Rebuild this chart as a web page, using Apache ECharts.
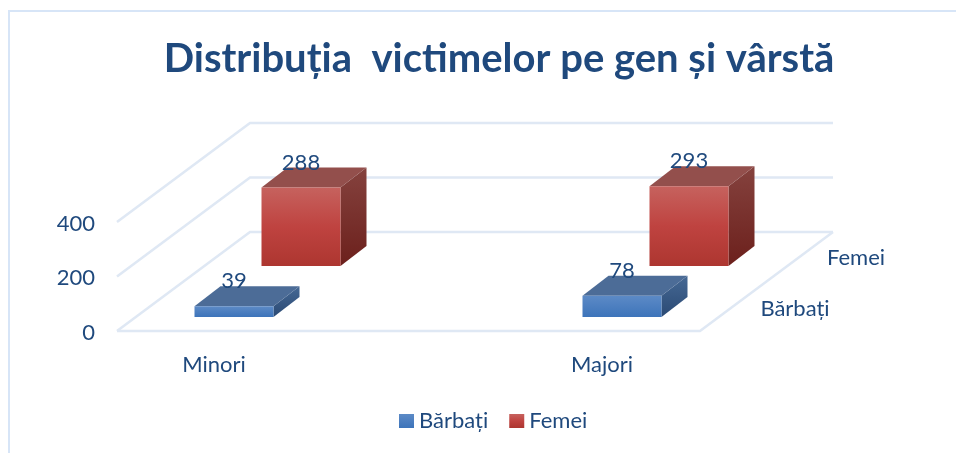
<!DOCTYPE html>
<html>
<head>
<meta charset="utf-8">
<title>Distribuția victimelor pe gen și vârstă</title>
<script src="https://cdn.jsdelivr.net/npm/echarts@6/dist/echarts.min.js"></script>
<style>
  html, body { margin: 0; padding: 0; background: #fff; }
  #chart { width: 956px; height: 453px; }
</style>
</head>
<body>
<div id="chart"></div>
<script>
const categories = ['Minori', 'Majori']
const barbati = [39, 78]
const femei = [288, 293]
const yTicks = [0, 200, 400]
const depthNames = ['Bărbați', 'Femei']

const textColor = '#1f497d'
const fontFamily = 'Lato, "Noto Sans", sans-serif'
const wallColor = '#dfe8f4'

// fake 3d: floor depth and how far each row sits from the front edge
const floor = { left: 117, right: 700, dx: 133, dy: -99 }
const bar = { width: 79, dx: 26, dy: -20 }
const rows = [
  { dx: 0, dy: -14, labelX: 795, labelY: 309 },
  { dx: 67, dy: -65, labelX: 856, labelY: 258 }
]

function vgrad(top, bottom) {
  return new echarts.graphic.LinearGradient(0, 0, 0, 1, [
    { offset: 0, color: top },
    { offset: 1, color: bottom }
  ])
}

const faces = [
  {
    front: vgrad('#5c8ac6', '#3d74ba'),
    top: '#4c6c97',
    side: vgrad('#456894', '#2b4a74')
  },
  {
    front: new echarts.graphic.LinearGradient(0, 0, 0, 1, [
      { offset: 0, color: '#c6625e' },
      { offset: 0.5, color: '#bf4340' },
      { offset: 1, color: '#ad3630' }
    ]),
    top: '#934f4c',
    side: vgrad('#85423e', '#6c201c')
  }
]

function poly(points, fill) {
  return { type: 'polygon', shape: { points }, style: { fill } }
}

function renderBar(rowIdx) {
  return function (params, api) {
    const row = rows[rowIdx]
    const face = faces[rowIdx]
    const base = api.coord([api.value(0), 0])
    const peak = api.coord([api.value(0), api.value(1)])
    const xl = base[0] + row.dx - bar.width / 2
    const xr = xl + bar.width
    const yb = base[1] + row.dy
    const yt = peak[1] + row.dy
    return {
      type: 'group',
      children: [
        poly([[xr, yb], [xr + bar.dx, yb + bar.dy], [xr + bar.dx, yt + bar.dy], [xr, yt]], face.side),
        poly([[xl, yt], [xr, yt], [xr + bar.dx, yt + bar.dy], [xl + bar.dx, yt + bar.dy]], face.top),
        poly([[xl, yb], [xr, yb], [xr, yt], [xl, yt]], face.front)
      ]
    }
  }
}

// value labels go in their own series so they sit above every bar face
function renderValueLabel(rowIdx) {
  return function (params, api) {
    const row = rows[rowIdx]
    const peak = api.coord([api.value(0), api.value(1)])
    return {
      type: 'text',
      style: {
        x: peak[0] + row.dx,
        y: peak[1] + row.dy - 25,
        text: String(api.value(1)),
        fill: textColor,
        font: '22px ' + fontFamily,
        textAlign: 'center',
        textVerticalAlign: 'middle'
      }
    }
  }
}

function renderWall(params, api) {
  const y = api.coord([0, api.value(0)])[1]
  const lineStyle = { stroke: wallColor, lineWidth: 2.5, fill: null }
  const backX = floor.left + floor.dx
  const children = [{
    type: 'polyline',
    shape: { points: [[floor.left, y], [backX, y + floor.dy], [floor.right + floor.dx, y + floor.dy]] },
    style: lineStyle
  }]
  if (api.value(0) === 0) {
    children.push({
      type: 'polyline',
      shape: { points: [[floor.left, y], [floor.right, y], [floor.right + floor.dx, y + floor.dy]] },
      style: lineStyle
    })
  }
  return { type: 'group', children }
}

function renderDepthLabel(params, api) {
  const row = rows[params.dataIndex]
  return {
    type: 'text',
    style: {
      x: row.labelX,
      y: row.labelY,
      text: depthNames[params.dataIndex],
      fill: textColor,
      font: '22px ' + fontFamily,
      textAlign: 'center',
      textVerticalAlign: 'middle'
    }
  }
}

const chart = echarts.init(document.getElementById('chart'))
chart.setOption({
  animation: false,
  backgroundColor: '#fff',
  graphic: [{
    type: 'polyline',
    silent: true,
    shape: { points: [[9, 453], [9, 11], [956, 11]] },
    style: { stroke: '#d7e5f7', lineWidth: 2, fill: null }
  }],
  title: {
    text: 'Distribuția  victimelor pe gen și vârstă',
    left: 494,
    top: 34,
    textAlign: 'center',
    textStyle: { color: textColor, fontFamily, fontWeight: 'bold', fontSize: 40 }
  },
  legend: {
    data: depthNames,
    left: 394,
    top: 405,
    icon: 'rect',
    itemWidth: 15,
    itemHeight: 14,
    itemGap: 21,
    selectedMode: false,
    textStyle: { color: textColor, fontFamily, fontSize: 22 }
  },
  grid: { left: 40, width: 776, top: 222, height: 109 },
  xAxis: {
    type: 'category',
    data: categories,
    axisLine: { show: false },
    axisTick: { show: false },
    axisLabel: {
      color: textColor,
      fontFamily,
      fontSize: 22,
      margin: 23,
      padding: [0, 40, 0, 0]
    }
  },
  yAxis: {
    type: 'value',
    min: 0,
    max: 400,
    interval: 200,
    offset: -60,
    axisLine: { show: false },
    axisTick: { show: false },
    splitLine: { show: false },
    axisLabel: {
      color: textColor,
      fontFamily,
      fontSize: 22,
      margin: 5,
      formatter: '{v|{value}}',
      rich: { v: { color: textColor, fontFamily, fontSize: 22, padding: [3, 0, 0, 0] } }
    }
  },
  series: [
    {
      name: 'wall',
      type: 'custom',
      z: 1,
      silent: true,
      clip: false,
      data: yTicks.map(t => [t]),
      encode: { y: 0 },
      renderItem: renderWall
    },
    {
      name: 'depth',
      type: 'custom',
      z: 1,
      silent: true,
      clip: false,
      data: depthNames.map((n, i) => [i, 0]),
      renderItem: renderDepthLabel
    },
    {
      name: depthNames[1],
      type: 'custom',
      z: 2,
      clip: false,
      itemStyle: { color: faces[1].front },
      data: femei.map((v, i) => [i, v]),
      encode: { x: 0, y: 1 },
      renderItem: renderBar(1)
    },
    {
      name: depthNames[0],
      type: 'custom',
      z: 3,
      clip: false,
      itemStyle: { color: faces[0].front },
      data: barbati.map((v, i) => [i, v]),
      encode: { x: 0, y: 1 },
      renderItem: renderBar(0)
    },
    {
      name: 'femei labels',
      type: 'custom',
      z: 5,
      silent: true,
      clip: false,
      data: femei.map((v, i) => [i, v]),
      encode: { x: 0, y: 1 },
      renderItem: renderValueLabel(1)
    },
    {
      name: 'barbati labels',
      type: 'custom',
      z: 5,
      silent: true,
      clip: false,
      data: barbati.map((v, i) => [i, v]),
      encode: { x: 0, y: 1 },
      renderItem: renderValueLabel(0)
    }
  ]
})
</script>
</body>
</html>
